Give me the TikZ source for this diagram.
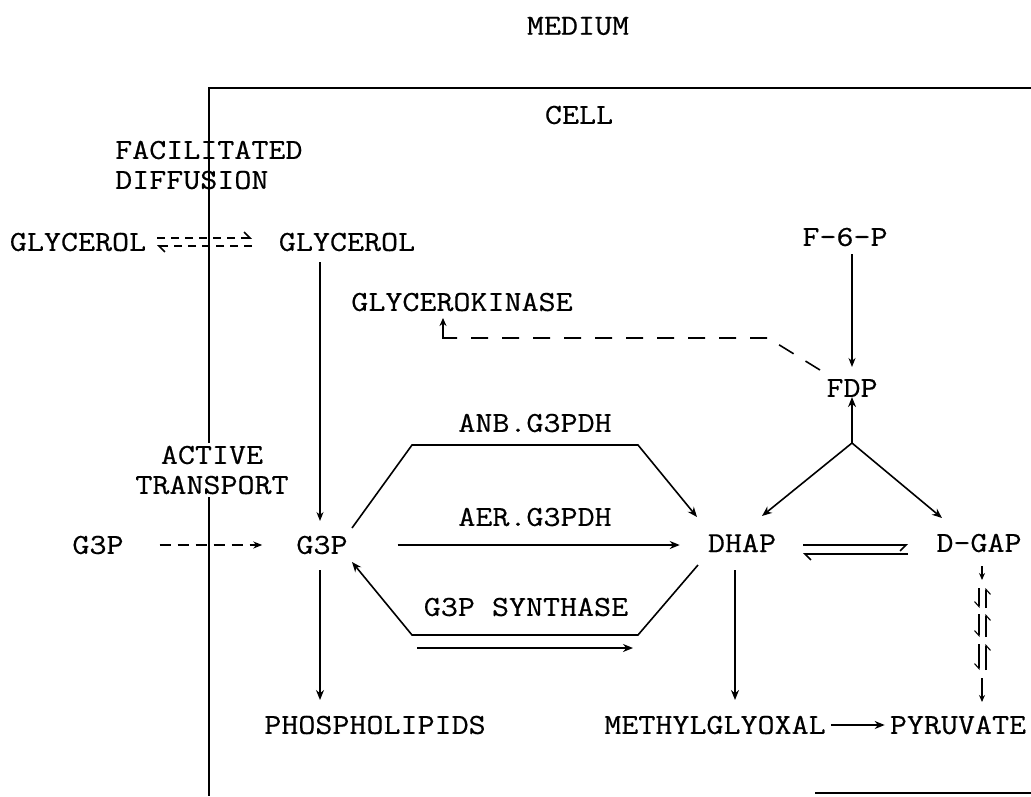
\documentclass[tikz,border=0pt]{standalone}
\usepackage{fontspec}
\setmonofont{Latin Modern Mono}[FakeStretch=1.14,FakeBold=0.5]
\usetikzlibrary{arrows.meta}
\begin{document}
\begin{tikzpicture}[x=1pt,y=-1pt,
  every node/.style={font=\ttfamily\fontsize{29}{30}\selectfont, inner sep=0pt},
  ln/.style={line width=1.6pt},
  thin ln/.style={line width=1.1pt},
  arr/.style={ln, -{Stealth[length=10pt,width=8pt]}},
  sarr/.style={thin ln, -{Stealth[length=7pt,width=6pt]}},
  hr/.style={ln, -{Straight Barb[right,length=6pt,width=12pt]}},
  hl/.style={ln, -{Straight Barb[left,length=6pt,width=12pt]}},
  shr/.style={thin ln, -{Straight Barb[right,length=5pt,width=9pt]}},
  dsh/.style={ln, dash pattern=on 17pt off 14pt},
  sdsh/.style={ln, dash pattern=on 8pt off 6pt}]
\useasboundingbox (0,0) rectangle (1031,796);

% cell border
\coordinate (bTL) at (209,88);
\coordinate (bTR) at (1031,88);
\coordinate (bBL) at (209,796);
\coordinate (bB1) at (815,793);
\coordinate (bB2) at (1031,793);
\draw[ln] (bTR) -- (bTL) -- (bBL);
\draw[ln] (bB1) -- (bB2);

% nodes
\node (medium) at (578,26) {MEDIUM};
\node (cell) at (579,115) {CELL};
\node[anchor=west, align=left] (fd) at (115,165) {FACILITATED\\DIFFUSION};
\node (glyL) at (78,242) {GLYCEROL};
\node (glyR) at (347,242) {GLYCEROL};
\node (f6p) at (845,237) {F-6-P};
\node (gk) at (462,302) {GLYCEROKINASE};
\node (fdp) at (852,388) {FDP};
\node (anb) at (535,423) {ANB.G3PDH};
\node[fill=white, inner sep=3pt, align=center] (at) at (212,470) {ACTIVE\\TRANSPORT};
\node (aer) at (535,517) {AER.G3PDH};
\node (g3pL) at (98,545) {G3P};
\node (g3p) at (322,545) {G3P};
\node (dhap) at (742,543) {DHAP};
\node (dgap) at (979,543) {D-GAP};
\node (syn) at (526,607) {G3P SYNTHASE};
\node (phos) at (375,725) {PHOSPHOLIPIDS};
\node (mgo) at (715,725) {METHYLGLYOXAL};
\node (pyr) at (958,725) {PYRUVATE};

% glycerol facilitated diffusion (dashed harpoons)
\coordinate (gdL1) at (157,238);
\coordinate (gdR1) at (252,238);
\coordinate (gdL2) at (157,246);
\coordinate (gdR2) at (252,246);
\draw[sdsh, -{Straight Barb[left,length=6pt,width=12pt]}] (gdL1) -- (gdR1);
\draw[sdsh, -{Straight Barb[left,length=6pt,width=12pt]}] (gdR2) -- (gdL2);

% glycerol -> G3P
\coordinate (gv1) at (320,262);
\coordinate (gv2) at (320,521);
\draw[thin ln, -{Stealth[length=9pt,width=7pt]}] (gv1) -- (gv2);

% active transport G3P -> G3P
\draw[sdsh, dash pattern=on 11pt off 7pt, -{Stealth[length=9pt,width=7pt]}, shorten <=36pt, shorten >=34pt] (g3pL.east) -- (g3p.west);

% F-6-P -> FDP
\coordinate (f6a) at (852,254);
\coordinate (f6b) at (852,367);
\draw[thin ln, -{Stealth[length=9pt,width=7pt]}] (f6a) -- (f6b);

% FDP -> glycerokinase (dashed feedback)
\coordinate (fk1) at (820,370);
\coordinate (fk2) at (768,338);
\coordinate (fk3) at (456,338);
\coordinate (gkCorner) at (443,338);
\coordinate (gkTip) at (443,318);
\draw[dsh] (fk1) -- (fk2) -- (fk3);
\draw[ln, -{Stealth[length=8pt,width=7pt]}] (fk3) -- (gkCorner) -- (gkTip);

% branch FDP / DHAP / D-GAP
\coordinate (br) at (852,443);
\coordinate (dhapIn) at (762,516);
\coordinate (dgapIn) at (942,518);
\draw[arr] (br) -- (fdp.south);
\draw[arr] (br) -- (dhapIn);
\draw[arr] (br) -- (dgapIn);

% upper hexagon (ANB.G3PDH)
\coordinate (u0) at (352,528);
\coordinate (u1) at (412,445);
\coordinate (u2) at (638,445);
\coordinate (u3) at (697,517);
\draw[arr] (u0) -- (u1) -- (u2) -- (u3);

% AER.G3PDH
\draw[arr, shorten <=50pt, shorten >=28pt] (g3p.east) -- (g3p.east -| dhap.west);

% lower hexagon (G3P synthase)
\coordinate (l0) at (698,565);
\coordinate (l1) at (638,635);
\coordinate (l2) at (412,635);
\coordinate (l3) at (352,562);
\draw[arr] (l0) -- (l1) -- (l2) -- (l3);
\coordinate (ua) at (417,648);
\coordinate (ub) at (633,648);
\draw[arr] (ua) -- (ub);

% DHAP <=> D-GAP
\coordinate (e1) at (803,545);
\coordinate (e2) at (908,545);
\coordinate (e3) at (803,554);
\coordinate (e4) at (908,554);
\draw[hr] (e1) -- (e2);
\draw[hl] (e4) -- (e3);

% G3P -> phospholipids
\coordinate (pa) at (320,570);
\coordinate (pb) at (320,700);
\draw[arr] (pa) -- (pb);

% DHAP -> methylglyoxal
\coordinate (ma) at (735,570);
\coordinate (mb) at (735,700);
\draw[arr] (ma) -- (mb);

% methylglyoxal -> pyruvate
\draw[arr, shorten <=5pt, shorten >=5pt] (mgo.east) -- (pyr.west);

% D-GAP -> pyruvate (chain)
\coordinate (d0) at (982,566);
\coordinate (d1) at (982,580);
\draw[sarr] (d0) -- (d1);
\foreach \ya/\yb in {588/608, 614/637, 644/670}{
  \draw[shr] (979,\ya) -- (979,\yb);
  \draw[shr] (986,\yb) -- (986,\ya);
}
\coordinate (d2) at (982,678);
\coordinate (d3) at (982,702);
\draw[sarr] (d2) -- (d3);
\end{tikzpicture}
\end{document}
